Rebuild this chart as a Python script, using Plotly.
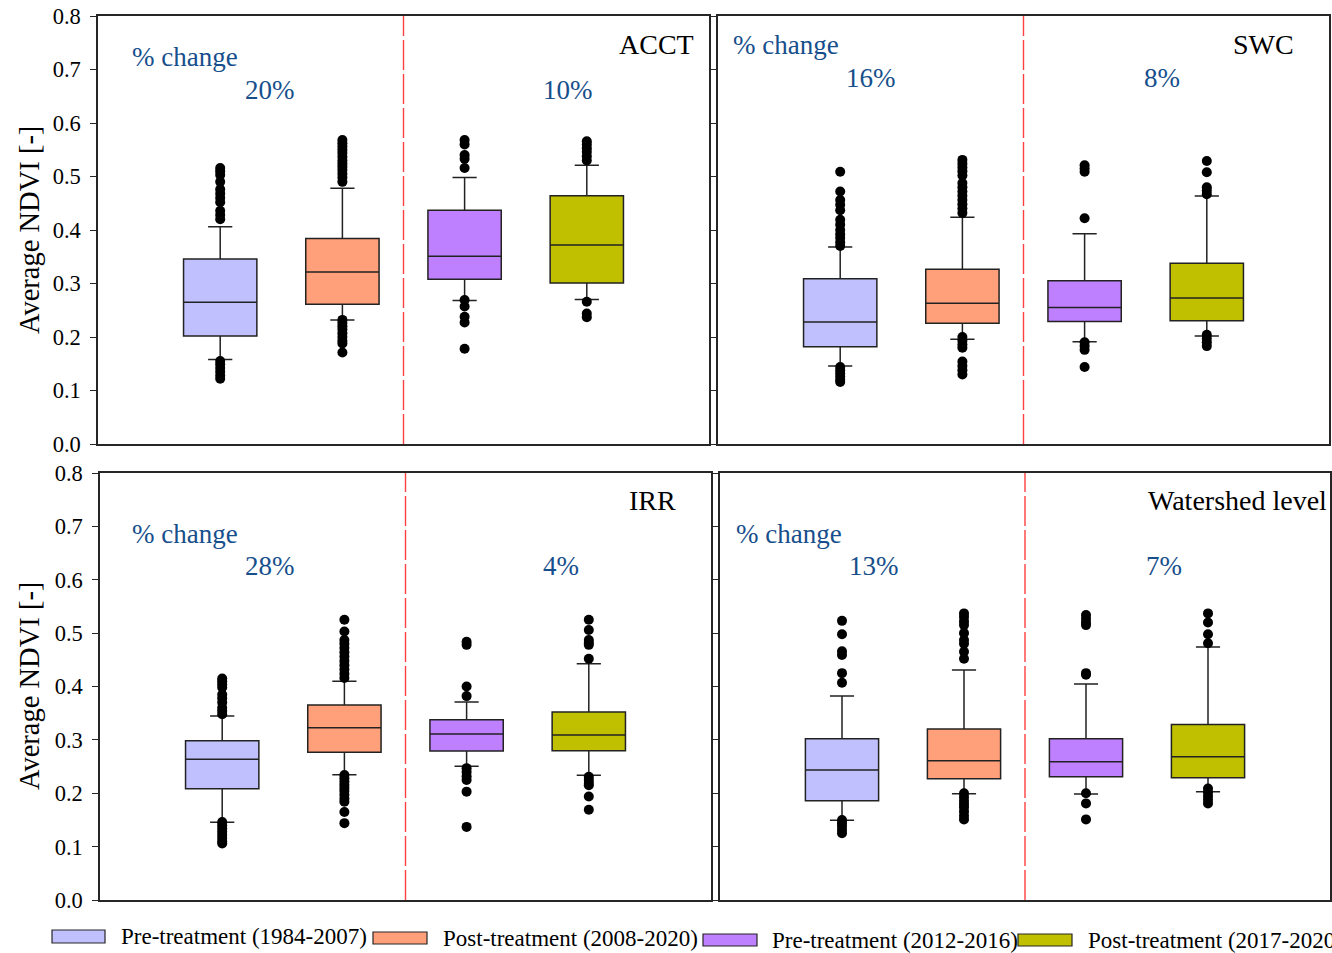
import plotly.graph_objects as go

# ---------------- data ----------------
panels = ["ACCT", "SWC", "IRR", "Watershed level"]
groups = ["Pre-treatment (1984-2007)", "Post-treatment (2008-2020)",
          "Pre-treatment (2012-2016)", "Post-treatment (2017-2020)"]
positions = [1, 2, 3, 4]
change_first = ["20%", "16%", "28%", "13%"]
change_second = ["10%", "8%", "4%", "7%"]

# per panel -> per group
whisker_low = [[0.158, 0.232, 0.268, 0.270],
               [0.146, 0.196, 0.191, 0.202],
               [0.1455, 0.2348, 0.2504, 0.2336],
               [0.1493, 0.199, 0.1986, 0.203]]
q1 = [[0.202, 0.261, 0.308, 0.301],
      [0.182, 0.2256, 0.229, 0.2305],
      [0.2086, 0.2767, 0.2792, 0.2798],
      [0.186, 0.2273, 0.2311, 0.229]]
median = [[0.265, 0.3215, 0.351, 0.372],
          [0.228, 0.263, 0.255, 0.273],
          [0.2635, 0.3229, 0.311, 0.309],
          [0.2436, 0.261, 0.2592, 0.2685]]
q3 = [[0.346, 0.384, 0.437, 0.464],
      [0.309, 0.3265, 0.305, 0.338],
      [0.2985, 0.3653, 0.3379, 0.3522],
      [0.3023, 0.3204, 0.3023, 0.329]]
whisker_high = [[0.406, 0.478, 0.498, 0.521],
                [0.368, 0.424, 0.393, 0.4636],
                [0.3447, 0.4098, 0.371, 0.4428],
                [0.3822, 0.4309, 0.4047, 0.474]]

outliers_high = [
    [[0.516, 0.51, 0.503, 0.49, 0.476, 0.468, 0.46, 0.452, 0.436, 0.428, 0.42],
     [0.568, 0.562, 0.556, 0.55, 0.544, 0.537, 0.53, 0.524, 0.518, 0.512, 0.505, 0.498, 0.49],
     [0.568, 0.56, 0.54, 0.533, 0.516],
     [0.566, 0.56, 0.553, 0.546, 0.538, 0.53]],
    [[0.509, 0.472, 0.456, 0.447, 0.437, 0.419, 0.41, 0.4, 0.392, 0.385, 0.377, 0.37],
     [0.531, 0.524, 0.517, 0.51, 0.502, 0.488, 0.48, 0.472, 0.464, 0.456, 0.448, 0.44, 0.432],
     [0.521, 0.515, 0.509, 0.422],
     [0.529, 0.508, 0.48, 0.474, 0.467]],
    [[0.415, 0.41, 0.404, 0.398, 0.385, 0.378, 0.37, 0.36, 0.354, 0.348],
     [0.525, 0.503, 0.487, 0.48, 0.472, 0.464, 0.456, 0.448, 0.44, 0.432, 0.424, 0.416],
     [0.484, 0.478, 0.4, 0.382],
     [0.525, 0.506, 0.487, 0.482, 0.478, 0.452]],
    [[0.523, 0.498, 0.466, 0.459, 0.425, 0.407],
     [0.537, 0.53, 0.522, 0.515, 0.5, 0.487, 0.48, 0.465, 0.452],
     [0.534, 0.527, 0.52, 0.515, 0.425, 0.422],
     [0.537, 0.52, 0.498, 0.481]],
]
outliers_low = [
    [[0.155, 0.149, 0.142, 0.135, 0.128, 0.122],
     [0.232, 0.226, 0.22, 0.214, 0.207, 0.2, 0.193, 0.188, 0.171],
     [0.269, 0.257, 0.238, 0.227, 0.178],
     [0.266, 0.244, 0.237]],
    [[0.144, 0.138, 0.132, 0.126, 0.12, 0.116],
     [0.2, 0.193, 0.186, 0.18, 0.154, 0.146, 0.138, 0.13],
     [0.19, 0.183, 0.176, 0.144],
     [0.204, 0.197, 0.19, 0.183]],
    [[0.146, 0.14, 0.134, 0.128, 0.122, 0.116, 0.11, 0.106],
     [0.234, 0.228, 0.222, 0.216, 0.21, 0.204, 0.197, 0.19, 0.184, 0.165, 0.144],
     [0.247, 0.24, 0.232, 0.225, 0.203, 0.137],
     [0.231, 0.225, 0.219, 0.215, 0.194, 0.169]],
    [[0.15, 0.144, 0.138, 0.131, 0.125],
     [0.2, 0.193, 0.186, 0.18, 0.174, 0.166, 0.158, 0.151],
     [0.2, 0.181, 0.151],
     [0.209, 0.202, 0.195, 0.188, 0.181]],
]

tick_vals = [0.0, 0.1, 0.2, 0.3, 0.4, 0.5, 0.6, 0.7, 0.8]
divider_x = 2.5

# ---------------- style ----------------
W, H = 1332, 953
colors = ["#c0c0ff", "#ffa07a", "#bf80ff", "#c0c000"]
FONT = "Liberation Serif"
BLUE = "#174f8c"

# panel pixel boxes (left, right, top, bottom)
panel_px = [(98, 709, 16, 444), (718, 1329, 16, 444),
            (100, 711, 473, 900), (720, 1330, 473, 900)]

def px_x(p):
    return p / W

def px_y(p):
    return 1 - p / H

fig = go.Figure()
layout = dict(width=W, height=H,
              margin=dict(l=0, r=0, t=0, b=0, pad=0, autoexpand=False),
              paper_bgcolor="white", plot_bgcolor="white", showlegend=False)

for i, name in enumerate(panels):
    sfx = "" if i == 0 else str(i + 1)
    xa, ya = "x" + sfx, "y" + sfx
    for g in range(4):
        fig.add_trace(go.Box(
            x=[positions[g]], q1=[q1[i][g]], median=[median[i][g]], q3=[q3[i][g]],
            lowerfence=[whisker_low[i][g]], upperfence=[whisker_high[i][g]],
            width=0.6, whiskerwidth=0.33, fillcolor=colors[g],
            line=dict(color="#222222", width=1.5), boxpoints=False,
            name=groups[g], xaxis=xa, yaxis=ya, hoverinfo="skip"))
    for g in range(4):
        ys = outliers_high[i][g] + outliers_low[i][g]
        fig.add_trace(go.Scatter(
            x=[positions[g]] * len(ys), y=ys, mode="markers",
            marker=dict(color="black", size=10), xaxis=xa, yaxis=ya,
            hoverinfo="skip"))
    l, r, t, b = panel_px[i]
    left_panel = i in (0, 2)
    layout["xaxis" + sfx] = dict(domain=[px_x(l), px_x(r)], range=[0, 5],
                                 anchor=ya, showgrid=False, zeroline=False,
                                 showticklabels=False, ticks="",
                                 showline=True, linecolor="#262626", linewidth=1.5,
                                 mirror=True, fixedrange=True)
    layout["yaxis" + sfx] = dict(domain=[px_y(b), px_y(t)], range=[0, 0.8],
                                 anchor=xa, showgrid=False, zeroline=False,
                                 tickvals=tick_vals, tickformat=".1f",
                                 ticks="outside", ticklen=6, tickwidth=1.3,
                                 tickcolor="#262626",
                                 showticklabels=left_panel,
                                 tickfont=dict(family=FONT, size=22.5, color="black"),
                                 ticklabelstandoff=5,
                                 showline=True, linecolor="#262626", linewidth=1.5,
                                 mirror=True, fixedrange=True)
    fig.add_shape(type="line", xref=xa, yref=ya, x0=divider_x, x1=divider_x,
                  y0=0, y1=0.8, line=dict(color="#ff4040", width=1.4, dash="30px,4px"))

# annotations (data coords per panel)
ann_pos = [
    ((0.26, 0.723), (1.41, 0.662), (3.85, 0.662), (4.89, 0.746, "right")),
    ((0.106, 0.746), (1.25, 0.684), (3.63, 0.684), (4.73, 0.746, "right")),
    ((0.245, 0.686), (1.39, 0.626), (3.77, 0.626), (4.73, 0.748, "right")),
    ((0.115, 0.686), (1.26, 0.626), (3.64, 0.626), (3.49, 0.748, "left")),
]
annotations = []
for i in range(4):
    sfx = "" if i == 0 else str(i + 1)
    xa, ya = "x" + sfx, "y" + sfx
    pc, f1, f2, nm = ann_pos[i]
    annotations.append(dict(x=pc[0], y=pc[1], xref=xa, yref=ya, text="% change",
                            showarrow=False, xanchor="left", yanchor="middle",
                            font=dict(family=FONT, size=27, color=BLUE)))
    annotations.append(dict(x=f1[0], y=f1[1], xref=xa, yref=ya, text=change_first[i],
                            showarrow=False, xanchor="center", yanchor="middle",
                            font=dict(family=FONT, size=27, color=BLUE)))
    annotations.append(dict(x=f2[0], y=f2[1], xref=xa, yref=ya, text=change_second[i],
                            showarrow=False, xanchor="center", yanchor="middle",
                            font=dict(family=FONT, size=27, color=BLUE)))
    annotations.append(dict(x=nm[0], y=nm[1], xref=xa, yref=ya, text=panels[i],
                            showarrow=False, xanchor=nm[2], yanchor="middle",
                            font=dict(family=FONT, size=28, color="black")))

# y-axis titles
for cy in (230, 686):
    annotations.append(dict(x=px_x(29), y=px_y(cy), xref="paper", yref="paper",
                            text="Average NDVI [-]", textangle=-90, showarrow=False,
                            xanchor="center", yanchor="middle",
                            font=dict(family=FONT, size=28.5, color="black")))

# manual legend
legend_swatch = [(52, 105, 930, 943), (373, 427, 932, 944),
                 (703, 757, 934, 946), (1018, 1072, 934, 946)]
legend_text_x = [119, 441, 770, 1086]
shapes = []
for g in range(4):
    x0, x1, y0, y1 = legend_swatch[g]
    shapes.append(dict(type="rect", xref="paper", yref="paper",
                       x0=px_x(x0), x1=px_x(x1), y0=px_y(y1), y1=px_y(y0),
                       fillcolor=colors[g], line=dict(color="#262626", width=1.2)))
    annotations.append(dict(x=px_x(legend_text_x[g]), y=px_y((y0 + y1) / 2),
                            xref="paper", yref="paper", text=groups[g],
                            showarrow=False, xanchor="left", yanchor="middle",
                            font=dict(family=FONT, size=23, color="black")))

layout["annotations"] = annotations
fig.update_layout(**layout)
for s in shapes:
    fig.add_shape(**s)

fig.write_html("out.html", config={"displayModeBar": False},
               post_script="document.body.style.margin='0';document.body.style.overflow='hidden';")
